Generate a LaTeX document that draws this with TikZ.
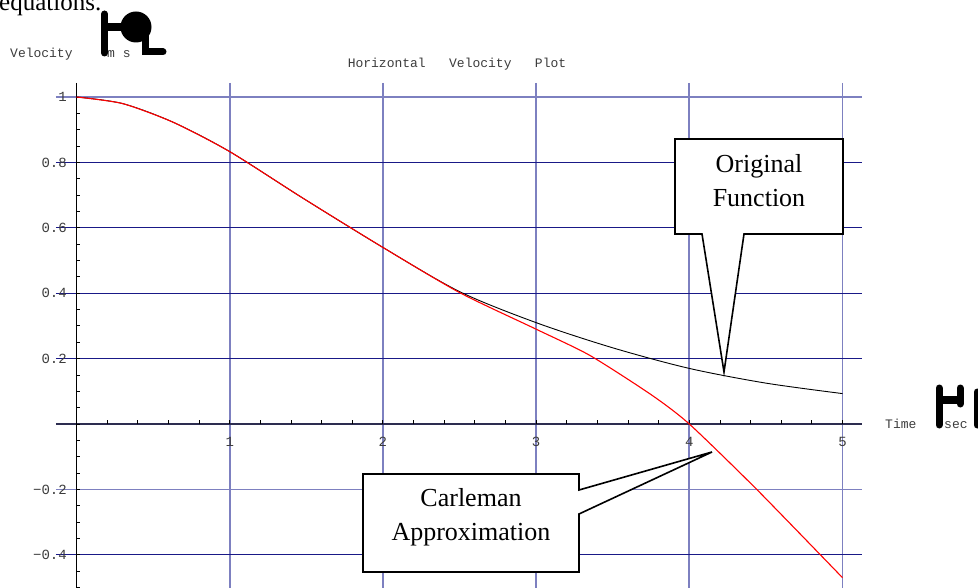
\documentclass[tikz,border=0pt]{standalone}
\usepackage{fontspec}
\setmainfont{Liberation Serif}
\newfontfamily\cour{Liberation Mono}
\definecolor{navygrid}{RGB}{25,25,135}
\definecolor{lightgrid}{RGB}{125,128,192}
\definecolor{axisdark}{RGB}{45,45,80}
\definecolor{labgray}{RGB}{60,60,60}
\begin{document}
\begin{tikzpicture}[x=1pt,y=-1pt,
  lab/.style={font=\cour\fontsize{13}{15}\selectfont, text=labgray, inner sep=0pt},
  tlab/.style={font=\cour\fontsize{14}{16}\selectfont, text=labgray, inner sep=0pt},
  hgrid/.style={draw=navygrid, line width=1.1pt},
  hgridl/.style={draw=lightgrid, line width=1.8pt},
  vgrid/.style={draw=lightgrid, line width=1.8pt},
  tickmark/.style={draw=black, line width=0.8pt},
  callout/.style={draw=black, fill=white, line width=1.6pt, line join=miter},
  ctext/.style={font=\fontsize{26}{34}\selectfont, align=center, inner sep=0pt},
  glyph/.style={draw=black, line width=7pt, line cap=round},
  origcurve/.style={draw=black, line width=0.9pt},
  carlcurve/.style={draw=red, line width=1.1pt}
]
\useasboundingbox (0,0) rectangle (978,588);
\clip (0,0) rectangle (978,588);

% stray text from the page
\node[font=\fontsize{25}{30}\selectfont, anchor=base west, inner sep=0pt] (eq) at (-1,11) {equations.};

% plot
\begin{scope}[shift={(76.5,424)}, x=153.2pt, y=327pt]
  % vertical grid
  \foreach \t in {1,...,5} \draw[vgrid] (\t,1.043) -- (\t,-0.51);
  % horizontal grid
  \foreach \v in {0.8,0.6,0.4,0.2,-0.4} \draw[hgrid] (-0.134,\v) -- (5.127,\v);
  \foreach \v in {1,-0.2} \draw[hgridl] (-0.134,\v) -- (5.127,\v);
  % axes
  \draw[draw=axisdark, line width=1.3pt] (-0.134,0) -- (5.127,0);
  \draw[draw=black, line width=1.1pt] (0,1.043) -- (0,-0.51);
  % minor ticks
  \foreach \k in {-10,...,20} \draw[tickmark] (0,\k*0.05) -- (0.026,\k*0.05);
  \foreach \k in {1,...,25} \draw[tickmark] (\k*0.2,0) -- (\k*0.2,0.012);
  % curves
  \draw[origcurve] plot[smooth, tension=0.5] coordinates {(0,1) (0.3,0.98) (0.63,0.923) (1,0.833) (1.48,0.69) (2,0.54) (2.5,0.405) (3,0.31) (3.5,0.233) (4,0.17) (4.5,0.125) (5,0.093)};
  \draw[carlcurve] plot[smooth, tension=0.4] coordinates {(0,1) (0.3,0.98) (0.63,0.923) (1,0.833) (1.48,0.69) (2,0.54) (2.5,0.402) (3,0.29) (3.35,0.21) (3.75,0.09) (4,0.0) (4.44,-0.2) (5,-0.47)};
\end{scope}

% tick labels (picture pixels)
\foreach \yy/\s in {97/1,162.4/0.8,227.8/0.6,293.2/0.4,358.6/0.2,489.4/−0.2,554.8/−0.4}
  \node[tlab, anchor=east] at (67,\yy) {\s};
\foreach \xx/\s in {229.7/1,382.9/2,536.1/3,689.3/4,842.5/5}
  \node[tlab] at (\xx,442) {\s};

% axis labels
\node[lab, anchor=base west] (vel) at (10,58) {Velocity};
\node[lab, anchor=base west] (ms) at (107,58) {m\ s};
\node[lab, anchor=base] (title) at (457,68) {Horizontal\ \ \ Velocity\ \ \ Plot};
\node[lab, anchor=base west] (time) at (885,428) {Time};
\node[lab, anchor=base west] (sec) at (944,428) {sec};

% broken bracket glyphs
\draw[glyph] (104.5,14) -- (104.5,53);
\draw[glyph, line cap=butt, line width=8pt] (105,27.5) -- (126,27.5);
\fill (136,27) circle (15.5);
\draw[glyph] (145,30) -- (145,52) -- (163,52);
\draw[glyph] (939,388) -- (939,425);
\draw[glyph, line cap=butt, line width=8pt] (939,400) -- (960,400);
\draw[glyph] (960,388) -- (960,404);
\draw[glyph] (977,392) -- (977,425);

% callouts
\draw[callout] (675,139) -- (843,139) -- (843,234) -- (744,234) -- (724,372) -- (702,234) -- (675,234) -- cycle;
\node[ctext] (orig) at (759,181) {Original\\Function};
\draw[callout] (363,474) -- (579,474) -- (579,490) -- (712,452) -- (579,514) -- (579,572) -- (363,572) -- cycle;
\node[ctext] (carl) at (471,517) {Carleman\\Approximation};
\end{tikzpicture}
\end{document}
